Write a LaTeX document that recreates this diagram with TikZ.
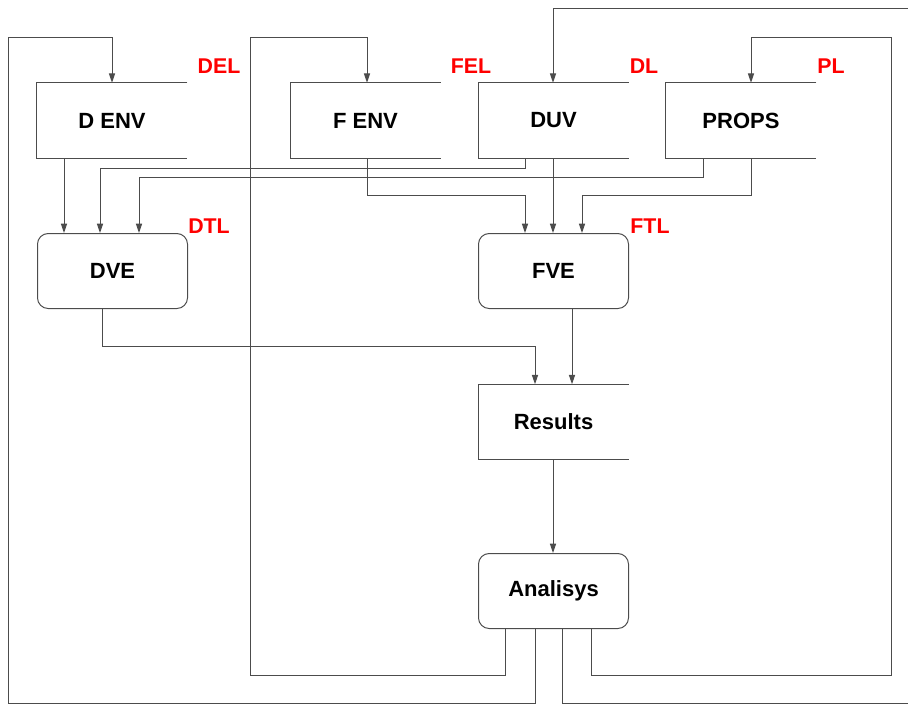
\documentclass[tikz,border=0pt]{standalone}
\usepackage{fontspec}
\setmainfont{Liberation Sans}
\usetikzlibrary{arrows.meta}

% open-ended data store: top, left and bottom sides only
\newcommand\storeoutline[1]{%
  \draw[wire] (#1.north east) -- (#1.north west) -- (#1.south west) -- (#1.south east);}

\begin{document}
\begin{tikzpicture}[x=0.75pt,y=-0.75pt,
  wire/.style={draw=black!70, line width=0.75pt},
  arr/.style={wire, -{Triangle[length=7pt,width=4.6pt]}},
  box/.style={minimum width=112.5pt, minimum height=56.25pt, inner sep=0pt,
    font=\bfseries\fontsize{16.5}{19}\selectfont},
  proc/.style={box, draw=black!70, line width=0.75pt, rounded corners=8pt},
  lbl/.style={text=red, inner sep=0pt, font=\bfseries\fontsize{16}{19}\selectfont}]

\clip (0,0) rectangle (908,704);

% columns and rows of the wiring grid
\foreach \c in {8,64,100,102,112,139,250,367,505,525,535,553,562,572,582,591,703,751,891,940}
  \coordinate (c\c) at (\c,0);
\foreach \r in {8,37,168,177,195,346,675,703}
  \coordinate (r\r) at (0,\r);

% data stores
\node[box] (denv)  at (112,120.5)   {D ENV};
\node[box] (fenv)  at (365.5,120.5) {F ENV};
\node[box] (duv)   at (553.5,120.5) {DUV};
\node[box] (props) at (741,120.5)   {PROPS};
\node[box] (res)   at (553.5,422)   {Results};
\foreach \s in {denv,fenv,duv,props,res} {\storeoutline{\s}}

% processes
\node[proc] (dve) at (112.5,271) {DVE};
\node[proc] (fve) at (553.5,271) {FVE};
\node[proc] (ana) at (553.5,591) {Analisys};

% labels
\node[lbl] (ldel) at (219,66)  {DEL};
\node[lbl] (lfel) at (471,66)  {FEL};
\node[lbl] (ldl)  at (644,66)  {DL};
\node[lbl] (lpl)  at (831,66)  {PL};
\node[lbl] (ldtl) at (209,226) {DTL};
\node[lbl] (lftl) at (650,226) {FTL};

% feedback loops from the analysis back to the inputs
\draw[arr] (ana.south -| c535) -- (c535 |- r703) -- (c8 |- r703) -- (c8 |- r37)
  -- (c112 |- r37) -- (denv.north -| c112);
\draw[arr] (ana.south -| c505) -- (c505 |- r675) -- (c250 |- r675) -- (c250 |- r37)
  -- (c367 |- r37) -- (fenv.north -| c367);
\draw[arr] (ana.south -| c562) -- (c562 |- r703) -- (c940 |- r703) -- (c940 |- r8)
  -- (c553 |- r8) -- (duv.north -| c553);
\draw[arr] (ana.south -| c591) -- (c591 |- r675) -- (c891 |- r675) -- (c891 |- r37)
  -- (c751 |- r37) -- (props.north -| c751);

% inputs to DVE
\draw[arr] (denv.south -| c64) -- (dve.north -| c64);
\draw[arr] (duv.south -| c525) -- (c525 |- r168) -- (c100 |- r168) -- (dve.north -| c100);
\draw[arr] (props.south -| c703) -- (c703 |- r177) -- (c139 |- r177) -- (dve.north -| c139);

% inputs to FVE
\draw[arr] (fenv.south -| c367) -- (c367 |- r195) -- (c525 |- r195) -- (fve.north -| c525);
\draw[arr] (duv.south -| c553) -- (fve.north -| c553);
\draw[arr] (props.south -| c751) -- (c751 |- r195) -- (c582 |- r195) -- (fve.north -| c582);

% results and analysis
\draw[arr] (dve.south -| c102) -- (c102 |- r346) -- (c535 |- r346) -- (res.north -| c535);
\draw[arr] (fve.south -| c572) -- (res.north -| c572);
\draw[arr] (res.south -| c553) -- (ana.north -| c553);
\end{tikzpicture}
\end{document}
